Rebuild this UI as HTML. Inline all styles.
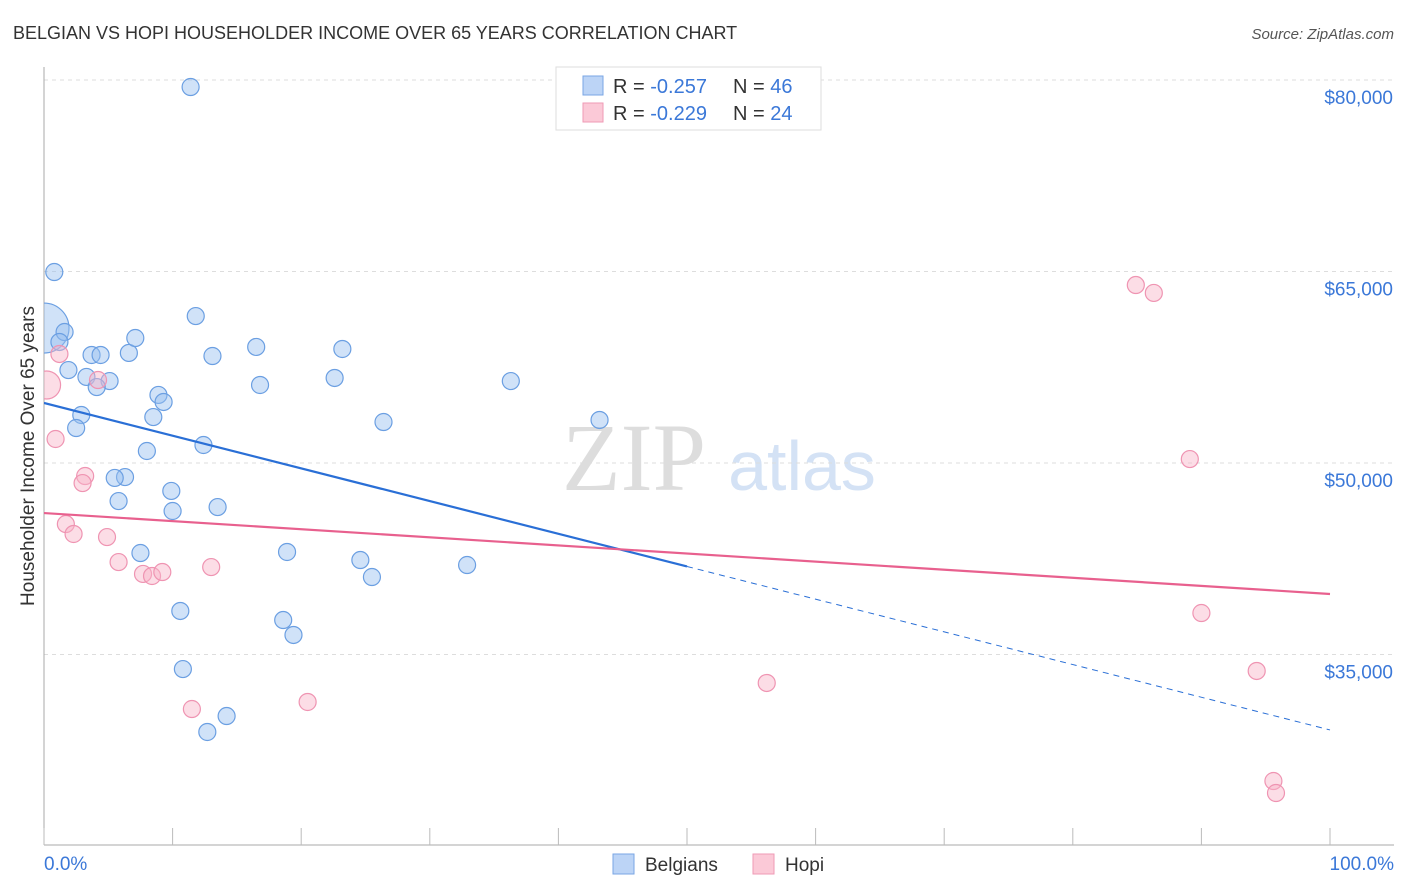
<!DOCTYPE html>
<html><head><meta charset="utf-8"><style>
body{margin:0;background:#fff;font-family:"Liberation Sans",sans-serif;}
svg{display:block}
</style></head><body>
<svg id="chart" width="1406" height="892" xmlns="http://www.w3.org/2000/svg">
<defs><clipPath id="plotclip"><rect x="44" y="60" width="1360" height="785"/></clipPath></defs>
<text x="13" y="39" font-size="18" fill="#333">BELGIAN VS HOPI HOUSEHOLDER INCOME OVER 65 YEARS CORRELATION CHART</text>
<text x="1394" y="39" font-size="15" fill="#555" text-anchor="end" font-style="italic">Source: ZipAtlas.com</text>
<g>
<text x="634" y="490" font-size="96" fill="#ddd" text-anchor="middle" font-family="Liberation Serif,serif">ZIP</text>
<text x="802" y="490" font-size="70" fill="#d4e2f5" text-anchor="middle">atlas</text>
</g>
<g id="grid"></g>
<g id="axes"></g>
<g id="marks" clip-path="url(#plotclip)"></g>
<text transform="translate(34,456) rotate(-90)" font-size="19" fill="#333" text-anchor="middle">Householder Income Over 65 years</text>
<g>
<rect x="556" y="67" width="265" height="63" fill="#fff" stroke="#ddd"/>
<rect x="583" y="76" width="20" height="19" fill="#bcd4f6" stroke="#7aa6e4"/>
<rect x="583" y="103" width="20" height="19" fill="#fbc9d7" stroke="#ef9ab5"/>
<text x="613" y="93" font-size="20" fill="#333">R = <tspan fill="#3b78d8">-0.257</tspan></text>
<text x="733" y="93" font-size="20" fill="#333">N = <tspan fill="#3b78d8">46</tspan></text>
<text x="613" y="120" font-size="20" fill="#333">R = <tspan fill="#3b78d8">-0.229</tspan></text>
<text x="733" y="120" font-size="20" fill="#333">N = <tspan fill="#3b78d8">24</tspan></text>
</g>
<g>
<rect x="613" y="854" width="21" height="20" fill="#bcd4f6" stroke="#7aa6e4"/>
<text x="645" y="871" font-size="19" fill="#333">Belgians</text>
<rect x="753" y="854" width="21" height="20" fill="#fbc9d7" stroke="#ef9ab5"/>
<text x="785" y="871" font-size="19" fill="#333">Hopi</text>
</g>
</svg>
<script>
const yTicks=[80000,65000,50000,35000];
const yTickLabels=["$80,000","$65,000","$50,000","$35,000"];
const belgX=[11.4,0.8,0,1.6,1.2,3.7,4.4,6.6,7.1,11.8,16.5,23.2,13.1,1.9,3.3,5.1,4.1,16.8,22.6,36.3,8.9,9.3,8.5,2.9,2.5,26.4,43.2,12.4,8.0,6.3,5.5,9.9,5.8,10.0,13.5,7.5,18.9,24.6,25.5,32.9,10.6,18.6,19.4,10.8,14.2,12.7];
const belgY=[79450,64960,60570,60260,59480,58460,58460,58620,59790,61510,59090,58930,58380,57280,56740,56420,55950,56110,56660,56420,55330,54780,53600,53760,52740,53210,53370,51410,50940,48900,48830,47810,47020,46240,46550,42950,43030,42400,41070,42010,38410,37700,36530,33860,30180,28930];
const belgR=[8.5,8.5,25,8.5,8.5,8.5,8.5,8.5,8.5,8.5,8.5,8.5,8.5,8.5,8.5,8.5,8.5,8.5,8.5,8.5,8.5,8.5,8.5,8.5,8.5,8.5,8.5,8.5,8.5,8.5,8.5,8.5,8.5,8.5,8.5,8.5,8.5,8.5,8.5,8.5,8.5,8.5,8.5,8.5,8.5,8.5];
const hopiX=[0.2,1.2,4.2,0.9,3.2,3.0,1.7,2.3,4.9,5.8,7.7,8.4,9.2,13.0,11.5,20.5,56.2,84.9,86.3,89.1,90.0,94.3,95.6,95.8];
const hopiY=[56110,58540,56500,51880,48980,48430,45220,44440,44200,42240,41310,41150,41460,41850,30730,31280,32770,63940,63320,50310,38250,33710,25090,24150];
const hopiR=[14,8.5,8.5,8.5,8.5,8.5,8.5,8.5,8.5,8.5,8.5,8.5,8.5,8.5,8.5,8.5,8.5,8.5,8.5,8.5,8.5,8.5,8.5,8.5];
const belgTrend=[54700,29090];
const belgSolidEnd=50;
const hopiTrend=[46080,39740];
const NS="http://www.w3.org/2000/svg";
const xs=p=>44+p*12.86;
const ys=v=>463-(v-50000)*191.5/15000;
function mk(tag,attrs,parent){const e=document.createElementNS(NS,tag);for(const k in attrs)e.setAttribute(k,attrs[k]);document.getElementById(parent).appendChild(e);return e;}
yTicks.forEach((t,i)=>{
 const l=mk('line',{x1:44,x2:1394,y1:ys(t),y2:ys(t),stroke:'#ddd','stroke-dasharray':'4,4'},'grid');
 
 
 const tx=mk('text',{x:1393,y:ys(t)+24,'font-size':19,fill:'#3b78d8','text-anchor':'end'},'axes');
 tx.textContent=yTickLabels[i];
 
 
});
const ax=mk('line',{x1:44,x2:1394,y1:845,y2:845,stroke:'#aaa'},'axes');


const ay=mk('line',{x1:44,x2:44,y1:67,y2:845,stroke:'#aaa'},'axes');


for(let i=0;i<=10;i++){const t=mk('line',{x1:xs(i*10),x2:xs(i*10),y1:828,y2:845,stroke:'#bbb'},'axes');
 
 }
[["0.0%",44,"start"],["100.0%",1394,"end"]].forEach(a=>{const t=mk('text',{x:a[1],y:870,'font-size':19,fill:'#3b78d8','text-anchor':a[2]},'axes');t.textContent=a[0];
 
 });
belgX.forEach((x,i)=>{const c=mk('circle',{cx:xs(x),cy:ys(belgY[i]),r:belgR[i],fill:'rgba(150,190,240,0.45)',stroke:'#6b9fe2','stroke-width':1.2},'marks');
 
 });
hopiX.forEach((x,i)=>{const c=mk('circle',{cx:xs(x),cy:ys(hopiY[i]),r:hopiR[i],fill:'rgba(248,180,200,0.45)',stroke:'#ef94b2','stroke-width':1.2},'marks');
 
 });
const bm=belgTrend[0]+(belgTrend[1]-belgTrend[0])*belgSolidEnd/100;
const l1=mk('line',{x1:xs(0),y1:ys(belgTrend[0]),x2:xs(belgSolidEnd),y2:ys(bm),stroke:'#2a6fd6','stroke-width':2.2},'marks');


const l2=mk('line',{x1:xs(belgSolidEnd),y1:ys(bm),x2:xs(100),y2:ys(belgTrend[1]),stroke:'#2a6fd6','stroke-width':1,'stroke-dasharray':'6,5'},'marks');


const l3=mk('line',{x1:xs(0),y1:ys(hopiTrend[0]),x2:xs(100),y2:ys(hopiTrend[1]),stroke:'#e8608e','stroke-width':2.2},'marks');


</script>
</body></html>
